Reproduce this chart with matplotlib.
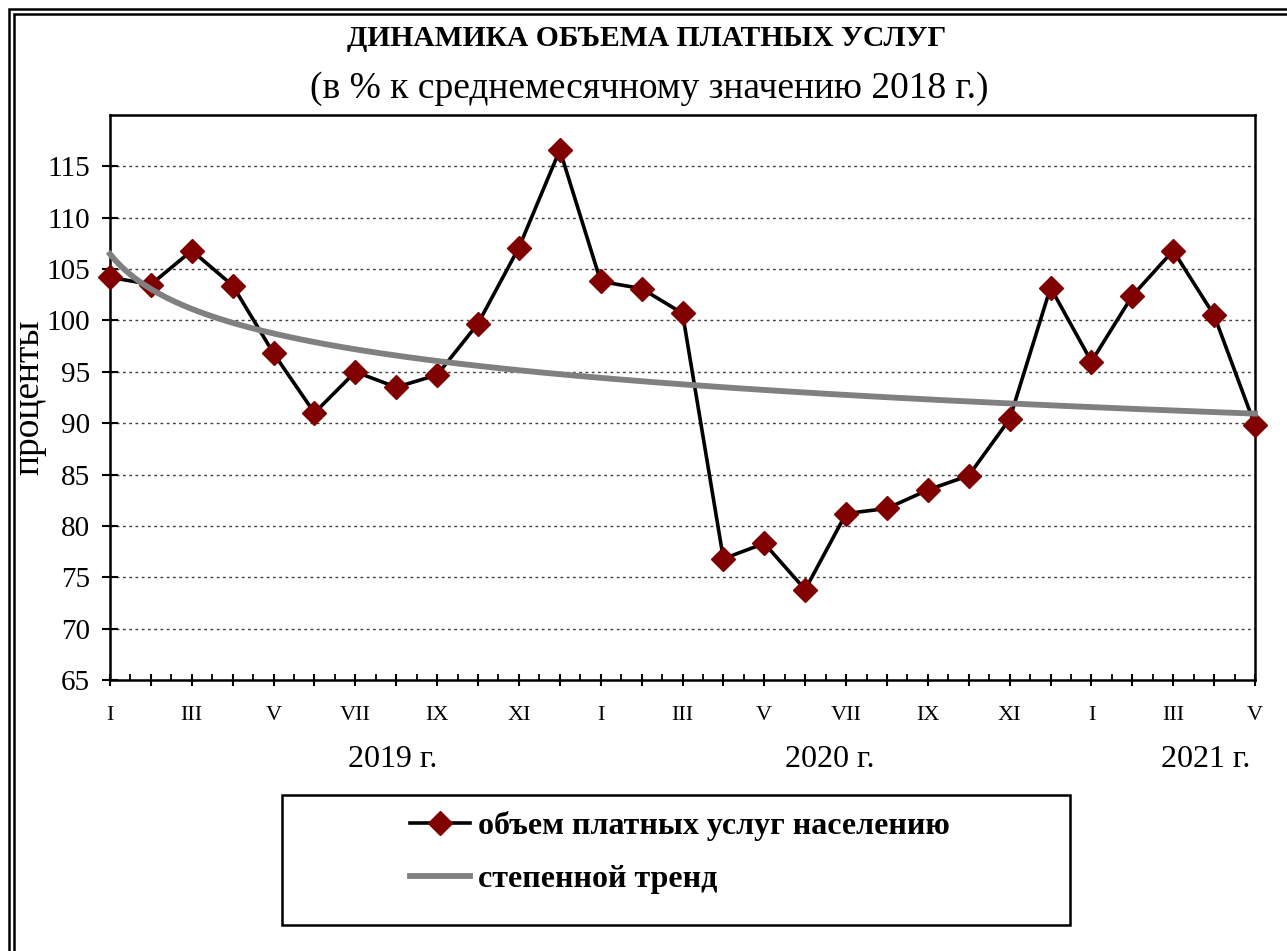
import numpy as np
import matplotlib
matplotlib.use('Agg')
import matplotlib.pyplot as plt
from matplotlib.patches import Rectangle
from matplotlib.lines import Line2D

plt.rcParams['font.family'] = ['Liberation Serif', 'DejaVu Serif']

# monthly values, I.2019 - V.2021
months = list(range(1, 30))
values = [104.2, 103.5, 106.8, 103.4, 96.8, 91.0, 95.0, 93.5, 94.7, 99.7, 107.1, 116.6,
          103.8, 103.1, 100.7, 76.8, 78.3, 73.8, 81.2, 81.7, 83.5, 84.9, 90.4, 103.2,
          96.0, 102.4, 106.8, 100.5, 89.8]
month_labels = ['I', '', 'III', '', 'V', '', 'VII', '', 'IX', '', 'XI', '',
                'I', '', 'III', '', 'V', '', 'VII', '', 'IX', '', 'XI', '',
                'I', '', 'III', '', 'V']
years = ['2019 г.', '2020 г.', '2021 г.']
yticks = [65, 70, 75, 80, 85, 90, 95, 100, 105, 110, 115]

W, H = 1287, 951
fig = plt.figure(figsize=(W / 100, H / 100), dpi=100)
ax = fig.add_axes([110 / W, 1 - 680 / H, (1255 - 110) / W, (680 - 115) / H])

x = np.array(months, dtype=float)
y = np.array(values)

# power trend like excel: ln y = ln a + b ln x
b, lna = np.polyfit(np.log(x), np.log(y), 1)
xt = np.linspace(1, 29, 300)
trend = np.exp(lna) * xt ** b

ax.plot(x, y, color='black', lw=2.6, marker='D', ms=12,
        markerfacecolor='#800000', markeredgecolor='#800000', zorder=3,
        clip_on=False)
ax.plot(xt, trend, color='#808080', lw=4.2, zorder=4, clip_on=False)

ax.set_xlim(1, 29)
ax.set_ylim(65, 120)
ax.set_yticks(yticks)
ax.set_yticklabels([str(v) for v in yticks], fontsize=21)
ax.set_xticks(months)
ax.set_xticklabels(month_labels, fontsize=16)
ax.set_xticks(np.arange(1.5, 29, 1), minor=True)

for v in yticks[1:]:
    ax.axhline(v, color='#404040', lw=1.0, ls=(0, (2, 2.5)), zorder=1)

for s in ax.spines.values():
    s.set_linewidth(1.8)
    s.set_color('black')

ax.tick_params(axis='y', direction='inout', length=11, width=1.5, pad=9)
ax.tick_params(axis='x', which='major', direction='inout', length=9, width=1.5, pad=14)
ax.tick_params(axis='x', which='minor', direction='in', length=4, width=1.3)

ax.set_ylabel('проценты', fontsize=27, labelpad=0)

tr = ax.get_xaxis_transform()
ax.text(7.92, -0.14, years[0], transform=tr, ha='center', va='center', fontsize=23)
ax.text(18.6, -0.14, years[1], transform=tr, ha='center', va='center', fontsize=23)
ax.text(27.8, -0.14, years[2], transform=tr, ha='center', va='center', fontsize=23)

fig.text(0.5 * (348 + 945) / W, 1 - 39 / H, 'ДИНАМИКА ОБЪЕМА ПЛАТНЫХ УСЛУГ',
         ha='center', va='center', fontsize=21.3, fontweight='bold')
fig.text(0.5 * (308 + 990) / W, 1 - 89 / H, '(в % к среднемесячному значению 2018 г.)',
         ha='center', va='center', fontsize=27)

# legend box
fig.patches.append(Rectangle((282 / W, 1 - 925 / H), (1070 - 282) / W, (925 - 795) / H,
                             transform=fig.transFigure, fill=False, edgecolor='black', lw=1.8))
h1 = Line2D([], [], color='black', lw=2.6, marker='D', ms=12,
            markerfacecolor='#800000', markeredgecolor='#800000')
h2 = Line2D([], [], color='#808080', lw=4.2)
fig.legend([h1, h2], ['объем платных услуг населению', 'степенной тренд'],
           loc='upper left', bbox_to_anchor=(410 / W, 1 - 811 / H), frameon=False,
           prop={'size': 23, 'weight': 'bold'}, handlelength=1.87, handletextpad=0.25,
           labelspacing=0.74, borderpad=0, borderaxespad=0)

# double outer frame
for off in (8.5, 13.5):
    fig.patches.append(Rectangle((off / W, -0.2), 2, 1.2 - off / H,
                                 transform=fig.transFigure, fill=False,
                                 edgecolor='black', lw=1.8, clip_on=False))

fig.savefig('out.png', dpi=100)
